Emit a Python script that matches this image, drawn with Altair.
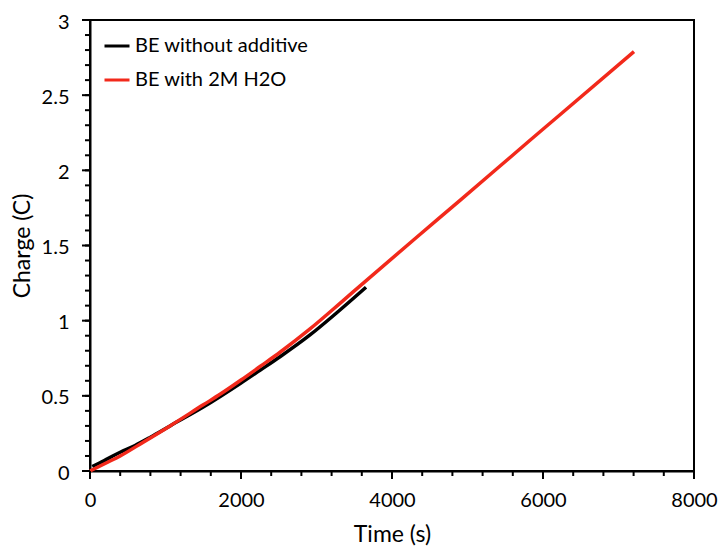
import altair as alt
import pandas as pd

# Series
red_name = "BE with 2M H2O"
black_name = "BE without additive"

red_t = [0, 200, 400, 700, 1060, 1500, 1722, 2000, 2252, 2517, 2914, 3311, 3620, 4327, 4901, 5828, 6225, 7205]
red_c = [0.0, 0.05, 0.10, 0.19, 0.30, 0.44, 0.51, 0.605, 0.695, 0.79, 0.945, 1.115, 1.25, 1.555, 1.80, 2.20, 2.37, 2.79]

black_t = [30, 132, 400, 596, 800, 1060, 1500, 2000, 2252, 2517, 2914, 3311, 3656]
black_c = [0.03, 0.055, 0.125, 0.17, 0.225, 0.30, 0.425, 0.585, 0.67, 0.76, 0.905, 1.071, 1.222]

x_major = [0, 2000, 4000, 6000, 8000]
x_minor = [i * 400 for i in range(21)]
y_major = [0, 0.5, 1, 1.5, 2, 2.5, 3]
y_minor = [round(i * 0.1, 1) for i in range(31)]

W, H = 604, 451

df = pd.concat([
    pd.DataFrame({"t": black_t, "c": black_c, "series": black_name, "order": 0}),
    pd.DataFrame({"t": red_t, "c": red_c, "series": red_name, "order": 1}),
])

FONT = "Lato"

common_axis = dict(
    labelOverlap=False,
    labelFlush=False,
    grid=False,
    titleFontSize=23,
    titleFontWeight="normal",
    titleFont=FONT,
    labelFontSize=20,
    labelFont=FONT,
    labelColor="black",
    titleColor="black",
    domainColor="black",
    domainWidth=2,
    tickColor="black",
    tickWidth=2,
)

x_axis = alt.Axis(
    values=x_major,
    format="d",
    ticks=False,
    title="Time (s)",
    titleY=70,
    titleBaseline="alphabetic",
    labelPadding=19,
    **common_axis,
)

y_axis = alt.Axis(
    values=y_major,
    labelExpr="'' + datum.value",
    ticks=False,
    title="Charge (C)",
    titleX=-68,
    titleBaseline="middle",
    labelPadding=21,
    labelOffset=2,
    **common_axis,
)

color = alt.Color(
    "series:N",
    scale=alt.Scale(domain=[black_name, red_name], range=["#000000", "#f2291b"]),
    legend=alt.Legend(
        title=None,
        orient="none",
        legendX=13,
        legendY=12,
        padding=0,
        rowPadding=10,
        symbolType="stroke",
        symbolSize=625,
        symbolStrokeWidth=3,
        labelFontSize=20,
        labelFont=FONT,
        labelColor="black",
        labelOffset=4,
        labelLimit=400,
    ),
)

xs = alt.Scale(domain=[0, 8000], nice=False)
ys = alt.Scale(domain=[0, 3], nice=False)

base = alt.Chart(df).encode(
    x=alt.X("t:Q", scale=xs, axis=x_axis),
    y=alt.Y("c:Q", scale=ys, axis=y_axis),
    color=color,
)

black_layer = base.transform_filter(alt.datum.order == 0).mark_line(strokeWidth=3.5, interpolate="monotone")
red_layer = base.transform_filter(alt.datum.order == 1).mark_line(strokeWidth=3.5, interpolate="monotone")

# explicit tick marks: positions through the shared scales, pixel length as style
def xticks(vals, length):
    return alt.Chart(pd.DataFrame({"t": vals})).mark_tick(
        color="black", thickness=2, size=length, orient="vertical", opacity=1, clip=False
    ).encode(
        x=alt.X("t:Q", scale=xs),
        y=alt.value(H + length / 2),
    )

def yticks(vals, length):
    return alt.Chart(pd.DataFrame({"c": vals})).mark_rule(color="black", strokeWidth=2).encode(
        y=alt.Y("c:Q", scale=ys),
        x=alt.value(0),
        x2=alt.value(-length),
    )

chart = alt.layer(
    black_layer, red_layer,
    xticks(x_minor, 5), xticks(x_major, 8),
    yticks(y_minor, 5), yticks(y_major, 8),
).properties(
    width=W,
    height=H,
    autosize=alt.AutoSizeParams(type="none"),
    padding={"left": 90, "top": 20, "right": 27, "bottom": 75},
    background="white",
).configure_view(stroke="black", strokeWidth=2)

chart.save("out.html", embed_options={"renderer": "svg", "actions": False})
